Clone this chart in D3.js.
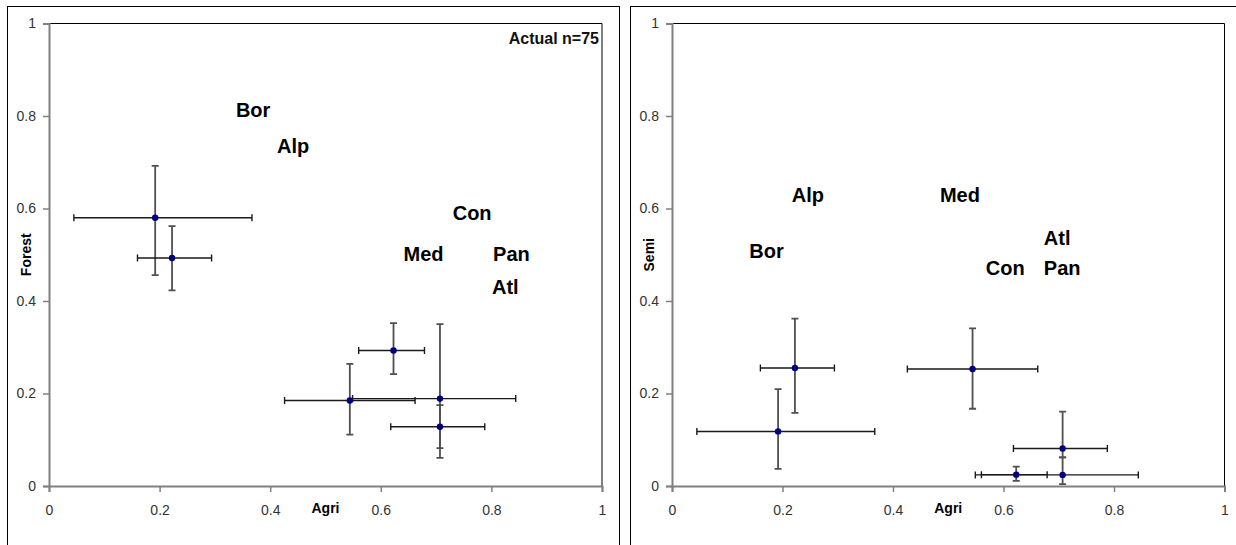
<!DOCTYPE html>
<html>
<head>
<meta charset="utf-8">
<script src="https://cdn.jsdelivr.net/npm/d3@7"></script>
<style>
  html, body { margin: 0; padding: 0; background: #fff; }
  svg { display: block; }
  text { font-family: "Liberation Sans", Arial, sans-serif; }
</style>
</head>
<body>
<svg id="chart" width="1236" height="545"></svg>
<script>
// ---------------- DATA ----------------
const regions  = ["Bor", "Alp", "Med", "Con", "Pan", "Atl"];
const agri     = [0.192, 0.2225, 0.544, 0.623, 0.707, 0.707];
const agriLo   = [0.045, 0.160, 0.426, 0.560, 0.549, 0.618];
const agriHi   = [0.367, 0.294, 0.662, 0.679, 0.844, 0.788];
const forest   = [0.580, 0.493, 0.185, 0.293, 0.189, 0.128];
const forestLo = [0.456, 0.423, 0.111, 0.242, 0.061, 0.082];
const forestHi = [0.692, 0.562, 0.264, 0.352, 0.350, 0.175];
const semi     = [0.118, 0.255, 0.253, 0.0245, 0.024, 0.081];
const semiLo   = [0.037, 0.158, 0.167, 0.011, 0.004, 0.062];
const semiHi   = [0.2095, 0.362, 0.341, 0.042, 0.062, 0.161];
// region label anchor positions (data units)
const forestLabelX = [0.338, 0.4125, 0.641, 0.730, 0.803, 0.801];
const forestLabelY = [0.798, 0.720, 0.4875, 0.5745, 0.486, 0.416];
const semiLabelX   = [0.140, 0.2167, 0.485, 0.568, 0.673, 0.673];
const semiLabelY   = [0.492, 0.614, 0.613, 0.456, 0.456, 0.522];
const tickValues = [0, 0.2, 0.4, 0.6, 0.8, 1];
const tickLabels = ["0", "0.2", "0.4", "0.6", "0.8", "1"];
const xTitle = "Agri";
const panelTitles = ["Forest", "Semi"];
const noteText = "Actual n=75";

// ---------------- DRAW ----------------
const svg = d3.select("#chart");

function panel(cfg) {
  const g = svg.append("g");
  // outer chart border
  g.append("rect")
    .attr("x", cfg.boxX + 0.5).attr("y", 6.5)
    .attr("width", cfg.boxW).attr("height", 600)
    .attr("fill", "#fff").attr("stroke", "#000").attr("stroke-width", 1);

  const x = d3.scaleLinear().domain([0, 1]).range([cfg.left, cfg.right]);
  const y = d3.scaleLinear().domain([0, 1]).range([486, 23.5]);

  // plot frame: top & right thin black
  g.append("path")
    .attr("d", `M${x(0)},${y(1)}H${x(1)}V${y(0)}`)
    .attr("fill", "none").attr("stroke", "#000").attr("stroke-width", 1);

  const fmt = d => tickLabels[tickValues.indexOf(d)];
  const xAxis = g.append("g").attr("transform", `translate(0,${y(0)})`)
    .call(d3.axisBottom(x).tickValues(tickValues).tickFormat(fmt).tickSizeOuter(0).tickSize(6).tickPadding(13));
  const yAxis = g.append("g").attr("transform", `translate(${x(0)},0)`)
    .call(d3.axisLeft(y).tickValues(tickValues).tickFormat(fmt).tickSizeOuter(0).tickSize(6).tickPadding(7));
  [xAxis, yAxis].forEach(a => {
    a.select(".domain").attr("stroke", "#808080").attr("stroke-width", 2);
    a.selectAll(".tick line").attr("stroke", "#808080").attr("stroke-width", 1.5);
    a.selectAll(".tick text").attr("fill", "#333").attr("font-size", 14)
      .attr("font-family", "'Liberation Sans', Arial, sans-serif");
  });

  // axis titles
  g.append("text").text(xTitle)
    .attr("x", (x(0) + x(1)) / 2).attr("y", 513)
    .attr("text-anchor", "middle").attr("font-weight", "bold").attr("font-size", 14);
  g.append("text").text(cfg.yTitle)
    .attr("transform", `translate(${x(0) - 18},${(y(0) + y(1)) / 2}) rotate(-90)`)
    .attr("text-anchor", "middle").attr("font-weight", "bold").attr("font-size", 14);

  // region labels
  regions.forEach((r, i) => {
    g.append("text").text(r)
      .attr("x", x(cfg.labX[i])).attr("y", y(cfg.labY[i]))
      .attr("font-weight", "bold").attr("font-size", 20).attr("fill", "#000");
  });

  // error bars
  const cap = 3.5;
  regions.forEach((r, i) => {
    const cx = x(agri[i]), cy = y(cfg.val[i]);
    const yl = y(cfg.lo[i]), yh = y(cfg.hi[i]);
    g.append("path")
      .attr("d", `M${cx},${yl}V${yh}M${cx - cap},${yl}H${cx + cap}M${cx - cap},${yh}H${cx + cap}`)
      .attr("fill", "none").attr("stroke", "#505050").attr("stroke-width", 1.8);
    const xl = x(agriLo[i]), xh = x(agriHi[i]);
    g.append("path")
      .attr("d", `M${xl},${cy}H${xh}M${xl},${cy - cap}V${cy + cap}M${xh},${cy - cap}V${cy + cap}`)
      .attr("fill", "none").attr("stroke", "#1a1a1a").attr("stroke-width", 1.4);
  });
  regions.forEach((r, i) => {
    g.append("circle").attr("cx", x(agri[i])).attr("cy", y(cfg.val[i])).attr("r", 3.2)
      .attr("fill", "#000080");
  });

  if (cfg.note) {
    g.append("text").text(noteText)
      .attr("x", x(1) - 3).attr("y", 44)
      .attr("text-anchor", "end").attr("font-size", 16).attr("font-weight", "bold")
      .attr("fill", "#111");
  }
}

panel({ boxX: 7, boxW: 612, left: 49, right: 602, yTitle: panelTitles[0],
        val: forest, lo: forestLo, hi: forestHi, labX: forestLabelX, labY: forestLabelY, note: true });
panel({ boxX: 630, boxW: 640, left: 672, right: 1224.5, yTitle: panelTitles[1],
        val: semi, lo: semiLo, hi: semiHi, labX: semiLabelX, labY: semiLabelY, note: false });
</script>
</body>
</html>
